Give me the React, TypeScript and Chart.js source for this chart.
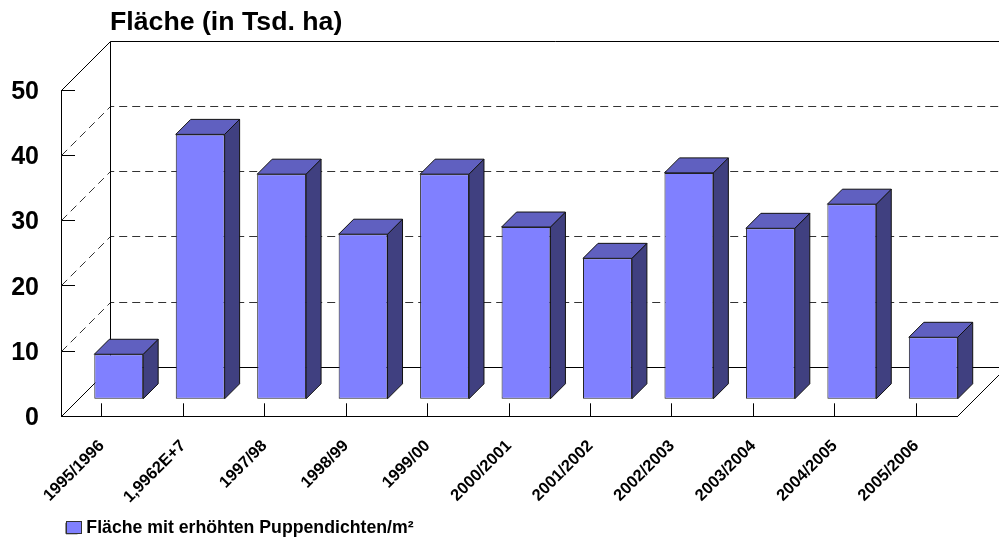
import React, { useEffect, useRef } from "react";
import { Chart, registerables } from "chart.js";

Chart.register(...registerables);

const categories = ["1995/1996", "1,9962E+7", "1997/98", "1998/99", "1999/00", "2000/2001", "2001/2002", "2002/2003", "2003/2004", "2004/2005", "2005/2006"];
const areaValues = [6.9, 40.6, 34.5, 25.3, 34.5, 26.4, 21.6, 34.7, 26.2, 29.9, 9.5];
const yTicksMax = 50;
const seriesName = "Fläche mit erhöhten Puppendichten/m²";
const titleText = "Fläche (in Tsd. ha)";

const FONT = "'Liberation Sans', Arial, sans-serif";
const WALL = 49; // depth of the floor/back wall
const BAR_OFFSET = 17; // how far the bar front sits behind the front plane
const BAR_DEPTH = 15;

const crisp = (v: number) => Math.floor(v) + 0.5;

const threeD = {
  id: "threeD",
  afterLayout(chart: any) {
    if (chart.titleBlock) chart.titleBlock.left = 110;
    if (chart.legend) {
      chart.legend.left = 66 - 4;
      chart.legend.top = 515.4;
    }
  },
  afterDraw(chart: any) {
    // the legend swatch is wider than the label layout allows
    const { ctx } = chart;
    ctx.save();
    ctx.fillStyle = "#8080FF";
    ctx.strokeStyle = "#333";
    ctx.lineWidth = 1;
    ctx.fillRect(66.5, 521.5, 15, 12);
    ctx.strokeRect(66.5, 521.5, 15, 12);
    ctx.restore();
  },
  beforeDatasetsDraw(chart: any) {
    const { ctx, scales } = chart;
    const y = scales.y;
    const x = scales.x;
    const left = crisp(x.left);
    const right = crisp(x.right);
    const y0 = crisp(y.getPixelForValue(0));
    const yMax = crisp(y.getPixelForValue(yTicksMax));
    ctx.save();
    ctx.lineWidth = 1;
    ctx.strokeStyle = "#333";
    ctx.setLineDash([8, 5]);
    for (const t of y.ticks) {
      if (t.value === 0 || t.value === yTicksMax) continue;
      const p = crisp(y.getPixelForValue(t.value));
      ctx.beginPath();
      ctx.moveTo(left, p);
      ctx.lineTo(left + WALL, p - WALL);
      ctx.lineTo(right + WALL, p - WALL);
      ctx.stroke();
    }
    ctx.setLineDash([]);
    ctx.strokeStyle = "#000";
    ctx.beginPath();
    ctx.moveTo(left, yMax);
    ctx.lineTo(left + WALL, yMax - WALL);
    ctx.lineTo(right + WALL, yMax - WALL);
    ctx.moveTo(left + WALL, yMax - WALL);
    ctx.lineTo(left + WALL, y0 - WALL);
    ctx.moveTo(left, y0);
    ctx.lineTo(left + WALL, y0 - WALL);
    ctx.lineTo(right + WALL, y0 - WALL);
    ctx.moveTo(right, y0);
    ctx.lineTo(right + WALL, y0 - WALL);
    ctx.stroke();
    ctx.restore();
  },
  beforeDatasetDraw(chart: any, args: any) {
    const { ctx } = chart;
    const meta = chart.getDatasetMeta(args.index);
    ctx.save();
    ctx.lineWidth = 1;
    ctx.strokeStyle = "#111";
    ctx.lineJoin = "round";
    for (const el of meta.data) {
      const xL = el.x - el.width / 2 + BAR_OFFSET;
      const xR = el.x + el.width / 2 + BAR_OFFSET;
      const yT = el.y - BAR_OFFSET;
      const yB = el.base - BAR_OFFSET;
      ctx.fillStyle = "#404080";
      ctx.beginPath();
      ctx.moveTo(xR, yT);
      ctx.lineTo(xR + BAR_DEPTH, yT - BAR_DEPTH);
      ctx.lineTo(xR + BAR_DEPTH, yB - BAR_DEPTH);
      ctx.lineTo(xR, yB);
      ctx.closePath();
      ctx.fill();
      ctx.stroke();
      ctx.fillStyle = "#6060C0";
      ctx.beginPath();
      ctx.moveTo(xL, yT);
      ctx.lineTo(xL + BAR_DEPTH, yT - BAR_DEPTH);
      ctx.lineTo(xR + BAR_DEPTH, yT - BAR_DEPTH);
      ctx.lineTo(xR, yT);
      ctx.closePath();
      ctx.fill();
      ctx.stroke();
    }
    ctx.restore();
    ctx.save();
    ctx.translate(BAR_OFFSET, -BAR_OFFSET);
  },
  afterDatasetDraw(chart: any) {
    chart.ctx.restore();
  },
};

export default function App() {
  const ref = useRef<HTMLCanvasElement>(null);
  useEffect(() => {
    const chart = new Chart(ref.current as HTMLCanvasElement, {
      type: "bar",
      data: {
        labels: categories,
        datasets: [
          {
            label: seriesName,
            data: areaValues,
            backgroundColor: "#8080FF",
            borderColor: "#222",
            borderWidth: 1,
            borderSkipped: false,
            barPercentage: 0.6,
            categoryPercentage: 1,
            clip: false,
          } as any,
        ],
      },
      plugins: [threeD],
      options: {
        responsive: false,
        animation: false,
        layout: { padding: { left: 0, right: 42, top: 0, bottom: 0 } },
        plugins: {
          tooltip: { enabled: false },
          title: {
            display: true,
            text: titleText,
            align: "start",
            color: "#000",
            font: { family: FONT, size: 26.7, weight: "bold" },
            padding: { top: 7, bottom: 51 },
          },
          legend: {
            position: "bottom",
            align: "start",
            labels: {
              boxWidth: 11.5,
              boxHeight: 11,
              padding: 4,
              color: "#000",
              font: { family: FONT, size: 17.7, weight: "bold" },
            },
          },
        },
        scales: {
          x: {
            afterFit(s: any) {
              s.height = 94;
            },
            grid: { offset: false, drawOnChartArea: false, tickLength: -13, color: "#000" },
            border: { color: "#000", width: 1 },
            ticks: {
              autoSkip: false,
              minRotation: 45,
              maxRotation: 45,
              padding: 33,
              color: "#000",
              font: { family: FONT, size: 16.5, weight: "bold" },
            },
          },
          y: {
            min: 0,
            max: yTicksMax,
            afterFit(s: any) {
              s.width = 61;
            },
            grid: { drawOnChartArea: false, tickLength: -14, color: "#000" },
            border: { color: "#000", width: 1 },
            ticks: {
              stepSize: 10,
              padding: 36,
              labelOffset: 2,
              color: "#000",
              font: { family: FONT, size: 25, weight: "bold" },
            },
          },
        },
      } as any,
    });
    return () => chart.destroy();
  }, []);
  return (
    <div style={{ position: "fixed", left: 0, top: 0, width: 999, height: 542, background: "#fff" }}>
      <canvas ref={ref} width={999} height={542} style={{ display: "block" }} />
    </div>
  );
}
